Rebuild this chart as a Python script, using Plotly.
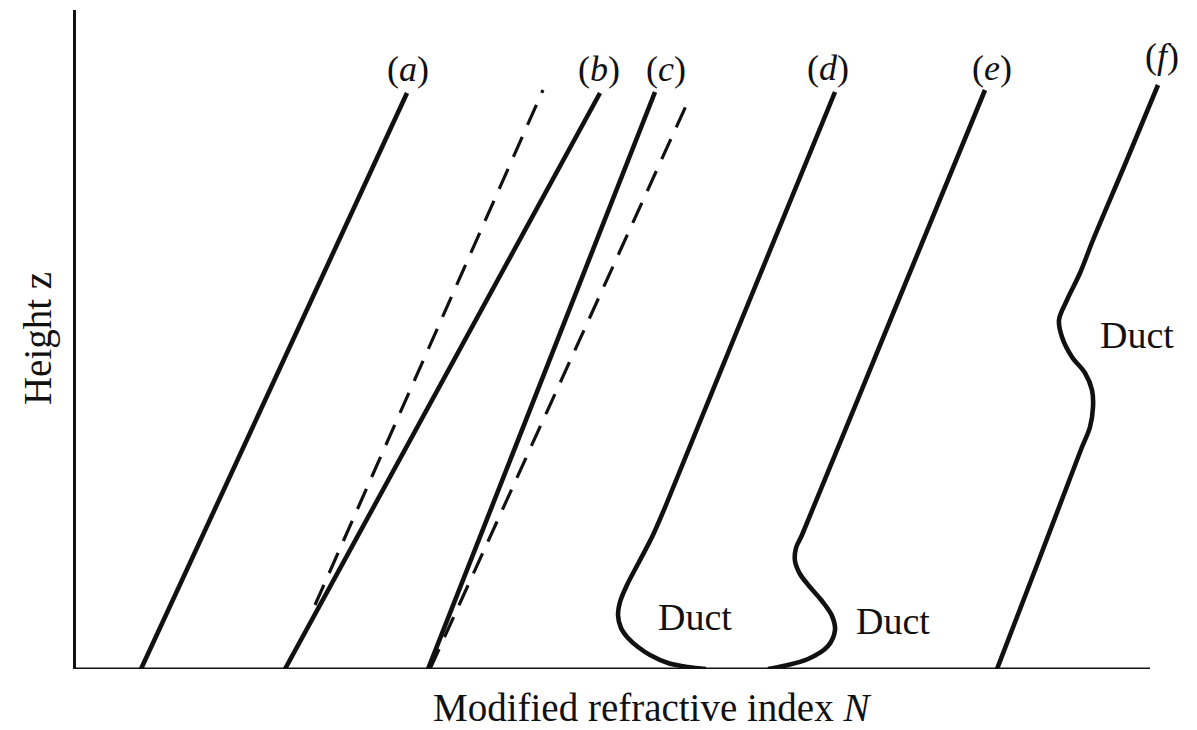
import plotly.graph_objects as go

# Modified refractive index N (arbitrary units) against height z for six profiles
a_N = [65, 331]
a_z = [0, 576]

b_N = [209, 524]
b_z = [0, 576]
b_ref_N = [239, 467]          # standard gradient drawn from the base of (b)
b_ref_z = [64, 579]

c_N = [352, 579]
c_z = [0, 577]
c_ref_N = [354, 614]          # standard gradient drawn from the base of (c)
c_ref_z = [0, 572]

d_N = [759, 663, 590, 577, 563, 551, 544, 542, 545, 552, 562, 574, 592, 612, 630]
d_z = [577, 343, 164, 134, 107, 84, 67, 54, 41, 31, 22, 14, 6, 2, 0]

e_N = [909, 816, 726, 720, 719, 724, 734, 746, 756, 759, 752, 732, 707, 692]
e_z = [579, 353, 134, 121, 108, 95, 82, 68, 53, 39, 23, 10, 3, 0]

f_N = [1082, 1050, 1017, 1004, 991, 983, 986, 996, 1009, 1016, 1017, 1014, 1006, 1001, 961, 921]
f_z = [584, 507, 429, 396, 369, 349, 332, 312, 296, 279, 262, 242, 222, 209, 104, 0]

N_axis_end = 1074              # right end of the N axis line

profile_labels = ["(<i>a</i>)", "(<i>b</i>)", "(<i>c</i>)", "(<i>d</i>)", "(<i>e</i>)", "(<i>f</i>)"]
duct_text = "Duct"

SERIF = "Liberation Serif, Times New Roman, serif"
INK = "#111111"

fig = go.Figure()

def solid(N, z, spline=False):
    fig.add_trace(go.Scatter(
        x=N, y=z, mode="lines",
        line=dict(color=INK, width=4.6, shape="spline" if spline else "linear", smoothing=1.0),
        hoverinfo="skip", showlegend=False,
    ))

def dashed(N, z):
    fig.add_trace(go.Scatter(
        x=N, y=z, mode="lines",
        line=dict(color=INK, width=3.2, dash="22px,13px"),
        hoverinfo="skip", showlegend=False,
    ))

solid(a_N, a_z)
dashed(b_ref_N, b_ref_z)
solid(b_N, b_z)
solid(c_N, c_z)
dashed(c_ref_N, c_ref_z)
solid(d_N, d_z, spline=True)
solid(e_N, e_z, spline=True)
solid(f_N, f_z, spline=True)

# Horizontal N axis line
fig.add_shape(type="line", x0=0, x1=N_axis_end, y0=0, y1=0,
              line=dict(color=INK, width=3), layer="above")

# Profile letters above the line tops
label_pos = [(332, 600), (523, 600), (590, 600), (752, 601), (916, 601), (1086, 613)]
for text, (x, y) in zip(profile_labels, label_pos):
    fig.add_annotation(x=x, y=y, text=text, showarrow=False,
                       font=dict(family=SERIF, size=36, color=INK),
                       xanchor="center", yanchor="middle")

# Duct annotations
for x, y in [(619, 52), (817, 48), (1061, 334)]:
    fig.add_annotation(x=x, y=y, text=duct_text, showarrow=False,
                       font=dict(family=SERIF, size=38, color=INK),
                       xanchor="center", yanchor="middle")

# Axis titles (placed in paper coordinates, outside the plotting area)
fig.add_annotation(xref="paper", yref="paper", x=0.514, y=-0.058,
                   text="Modified refractive index <i>N</i>", showarrow=False,
                   font=dict(family=SERIF, size=39, color=INK),
                   xanchor="center", yanchor="middle")
fig.add_annotation(xref="paper", yref="paper", x=-0.034, y=0.502,
                   text="Height z", showarrow=False, textangle=-90,
                   font=dict(family=SERIF, size=39, color=INK),
                   xanchor="center", yanchor="middle")

fig.update_xaxes(range=[0, 1121], showline=False,
                 showgrid=False, zeroline=False, showticklabels=False, ticks="", fixedrange=True)
fig.update_yaxes(range=[0, 659], showline=True, linecolor=INK, linewidth=3,
                 showgrid=False, zeroline=False, showticklabels=False, ticks="", fixedrange=True)

fig.update_layout(
    width=1197, height=730,
    margin=dict(l=76, r=0, t=10, b=61),
    paper_bgcolor="white", plot_bgcolor="white",
    showlegend=False,
)

fig.write_html("out.html")
